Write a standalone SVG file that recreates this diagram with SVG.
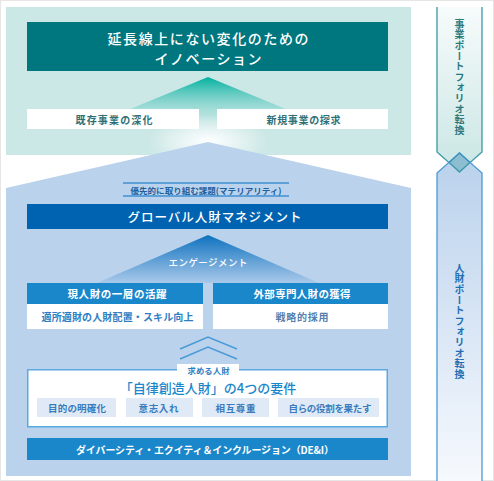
<svg xmlns="http://www.w3.org/2000/svg" width="494" height="481" viewBox="0 0 494 481">
<defs>
<style>
text{font-family:"Noto Sans CJK JP","Noto Sans",sans-serif;dominant-baseline:central;text-anchor:middle}
.w{fill:#fff}
.b{font-weight:700}
.m{font-weight:500}
.teal{fill:#2d7177}
.bl{fill:#2f7ec2}
.sm{fill:#dfeaf6}
.smt{fill:#3a7bbd;font-weight:700;font-size:9.5px}
.vt{writing-mode:vertical-rl;text-anchor:start;font-weight:700;font-size:10px;letter-spacing:0.6px}
</style>
<linearGradient id="gTeal" x1="0" y1="77" x2="0" y2="135" gradientUnits="userSpaceOnUse">
<stop offset="0" stop-color="#00b09f"/>
<stop offset="1" stop-color="#cce8e6" stop-opacity="0"/>
</linearGradient>
<linearGradient id="gEng" x1="0" y1="235" x2="0" y2="283" gradientUnits="userSpaceOnUse">
<stop offset="0" stop-color="#0f72bf"/>
<stop offset="1" stop-color="#a9c9ea"/>
</linearGradient>
<radialGradient id="gGlow" cx="208" cy="142" r="60" gradientUnits="userSpaceOnUse" gradientTransform="translate(0 142) scale(1 0.45) translate(0 -142)">
<stop offset="0" stop-color="#fff" stop-opacity="1"/>
<stop offset="1" stop-color="#fff" stop-opacity="0"/>
</radialGradient>
<linearGradient id="gUp" x1="0" y1="7" x2="0" y2="172" gradientUnits="userSpaceOnUse">
<stop offset="0" stop-color="#f7fbfb"/>
<stop offset="1" stop-color="#c9e6e4"/>
</linearGradient>
<linearGradient id="gLow" x1="0" y1="153" x2="0" y2="481" gradientUnits="userSpaceOnUse">
<stop offset="0" stop-color="#b9d1ec"/>
<stop offset="1" stop-color="#f6f9fd"/>
</linearGradient>
</defs>

<rect x="0.5" y="0.5" width="493" height="480" fill="#fff" stroke="#e6e6e6"/>

<g id="innovation-area">
<rect x="6" y="7" width="405" height="148" fill="#cce8e6"/>
<polygon points="208,77 50,142 366,142" fill="url(#gTeal)"/>
<ellipse cx="208" cy="138" rx="75" ry="30" fill="url(#gGlow)"/>
</g>

<g id="talent-area">
<polygon points="6,188 208,142 411,188 411,476 6,476" fill="#bad2ec"/>
</g>

<g id="innovation-header">
<rect x="27" y="22" width="361" height="49" fill="#00777f"/>
<text x="208" y="37.5" class="w m" font-size="14" textLength="201" lengthAdjust="spacing">延長線上にない変化のための</text>
<text x="208" y="58" class="w m" font-size="14" textLength="107" lengthAdjust="spacing">イノベーション</text>
</g>

<g id="deepen">
<rect x="27" y="109" width="172" height="20" fill="#fff"/>
<text x="114" y="119.5" class="teal b" font-size="10" textLength="77" lengthAdjust="spacing">既存事業の深化</text>
</g>
<g id="explore">
<rect x="217" y="109" width="171" height="20" fill="#fff"/>
<text x="303.5" y="119.5" class="teal b" font-size="10" textLength="74" lengthAdjust="spacing">新規事業の探求</text>
</g>

<g id="materiality">
<line x1="123" y1="183" x2="289" y2="183" stroke="#3f90d2" stroke-width="1.3"/>
<line x1="123" y1="196" x2="289" y2="196" stroke="#3f90d2" stroke-width="1.3"/>
<text x="206" y="189.5" fill="#1e5f9e" class="b" font-size="8.5" textLength="151" lengthAdjust="spacing">優先的に取り組む課題(マテリアリティ)</text>
</g>

<g id="global-hr">
<rect x="27" y="204" width="361" height="25" fill="#0063b1"/>
<text x="214.5" y="216.5" class="w m" font-size="12.5" textLength="174" lengthAdjust="spacing">グローバル人財マネジメント</text>
</g>

<g id="engagement">
<polygon points="208,235 97,283 319,283" fill="url(#gEng)"/>
<text x="208" y="262" class="w m" font-size="9.5" textLength="79" lengthAdjust="spacing">エンゲージメント</text>
</g>

<g id="current-talent">
<rect x="27" y="283" width="176" height="21" fill="#1a87cb"/>
<rect x="27" y="304" width="176" height="25" fill="#fff"/>
<text x="117" y="293.5" class="w b" font-size="10.5" textLength="99" lengthAdjust="spacing">現人財の一層の活躍</text>
<text x="117.5" y="316.5" class="bl b" font-size="10" textLength="152" lengthAdjust="spacing">適所適財の人財配置・スキル向上</text>
</g>

<g id="external-talent">
<rect x="213" y="283" width="175" height="21" fill="#1a87cb"/>
<rect x="213" y="304" width="175" height="25" fill="#fff"/>
<text x="302" y="293.5" class="w b" font-size="10.5" textLength="97" lengthAdjust="spacing">外部専門人財の獲得</text>
<text x="302" y="316.5" fill="#547fae" class="b" font-size="10" textLength="53" lengthAdjust="spacing">戦略的採用</text>
</g>

<g id="connectors">
<polyline points="180,349 208,337 237,349" fill="none" stroke="#4a9ad8" stroke-width="1.5"/>
<polyline points="180,359 208,347 237,359" fill="none" stroke="#4a9ad8" stroke-width="1.5"/>
</g>

<g id="requirements">
<rect x="27.75" y="369.75" width="359.5" height="57" fill="#fff" stroke="#5aa9e0" stroke-width="1.5"/>
<rect x="177" y="364" width="62" height="11" fill="#fff"/>
<text x="208.5" y="369.5" class="bl b" font-size="8.3" textLength="42" lengthAdjust="spacing">求める人財</text>
<text x="208" y="387.5" fill="#1a87cb" class="m" font-size="13">「自律創造人財」の4つの要件</text>
</g>
<g id="req-purpose">
<rect x="37" y="398" width="79" height="19" class="sm"/>
<text x="77" y="407.5" class="smt" textLength="58" lengthAdjust="spacing">目的の明確化</text>
</g>
<g id="req-will">
<rect x="126" y="398" width="67" height="19" class="sm"/>
<text x="158.5" y="407.5" class="smt" textLength="40" lengthAdjust="spacing">意志入れ</text>
</g>
<g id="req-respect">
<rect x="202" y="398" width="67" height="19" class="sm"/>
<text x="235.5" y="407.5" class="smt" textLength="40" lengthAdjust="spacing">相互尊重</text>
</g>
<g id="req-role">
<rect x="278" y="398" width="101" height="19" class="sm"/>
<text x="330" y="407.5" class="smt" textLength="83" lengthAdjust="spacing">自らの役割を果たす</text>
</g>

<g id="dei">
<rect x="27" y="438" width="361" height="22" fill="#1a87cb"/>
<text x="205" y="449" class="w b" font-size="10" textLength="258" lengthAdjust="spacing">ダイバーシティ・エクイティ＆インクルージョン（DE&amp;I）</text>
</g>

<g id="business-portfolio">
<path d="M437,7 L482,7 L482,152 L459.5,172 L437,152 Z" fill="url(#gUp)"/>
<path d="M437,7 L437,152 L459.5,172 L482,152 L482,7" fill="none" stroke="#3b99a7" stroke-width="1.3"/>
<text x="459.5" y="19" class="vt" fill="#2b7a80">事業ポートフォリオ転換</text>
</g>

<g id="talent-portfolio">
<path d="M437,173 L459.5,153 L482,173 L482,485 L437,485 Z" fill="url(#gLow)"/>
<path d="M437,485 L437,173 L459.5,153 L482,173 L482,485" fill="none" stroke="#4a9ad6" stroke-width="1.3"/>
<polygon points="459.5,153 449.1,162.5 459.5,172 469.9,162.5" fill="#8cbdd1"/>
<path d="M449.1,162.5 L459.5,153 L469.9,162.5" fill="none" stroke="#3b8fbf" stroke-width="1.3"/>
<path d="M449.1,162.5 L459.5,172 L469.9,162.5" fill="none" stroke="#3b99a7" stroke-width="1.3"/>
<text x="459.5" y="263" class="vt" fill="#1f6fb5">人財ポートフォリオ転換</text>
</g>
</svg>
